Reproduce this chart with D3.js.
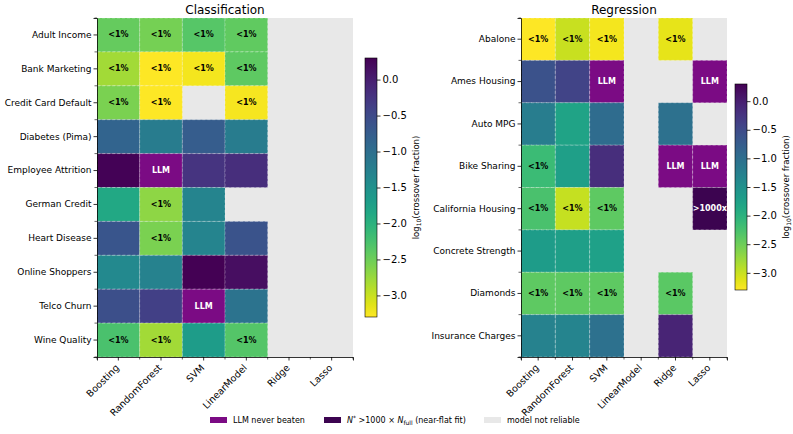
<!DOCTYPE html>
<html>
<head>
<meta charset="utf-8">
<script src="https://cdn.jsdelivr.net/npm/d3@7"></script>
<style>
  body { margin: 0; background: #fff; }
  text { font-family: "DejaVu Sans", sans-serif; fill: #000; }
</style>
</head>
<body>
<div id="chart"></div>
<script>
// models on the x axis (same for both panels)
var models = ["Boosting", "RandomForest", "SVM", "LinearModel", "Ridge", "Lasso"];

var clsDatasets = ["Adult Income", "Bank Marketing", "Credit Card Default", "Diabetes (Pima)",
  "Employee Attrition", "German Credit", "Heart Disease", "Online Shoppers", "Telco Churn", "Wine Quality"];

// log10(crossover fraction); null = model not reliable, "LLM" = never beaten, "FLAT" = >1000x
var clsValues = [
  [-2.45, -2.55, -2.35, -2.42, null, null],
  [-2.80, -3.30, -3.23, -2.40, null, null],
  [-2.58, -3.30, null, -3.25, null, null],
  [-0.85, -1.20, -0.75, -1.20, null, null],
  [0.28, "LLM", -0.24, -0.17, null, null],
  [-1.86, -2.69, -1.32, null, null, null],
  [-0.65, -2.58, -1.32, -0.62, null, null],
  [-1.39, -1.28, 0.30, 0.16, null, null],
  [-0.56, -0.38, "LLM", -1.07, null, null],
  [-2.26, -2.80, -1.68, -2.33, null, null]
];

var regDatasets = ["Abalone", "Ames Housing", "Auto MPG", "Bike Sharing", "California Housing",
  "Concrete Strength", "Diamonds", "Insurance Charges"];

var regValues = [
  [-3.30, -3.00, -3.23, null, -3.16, null],
  [-0.60, -0.42, "LLM", null, null, "LLM"],
  [-1.21, -1.79, -0.96, null, -1.03, null],
  [-2.15, -1.72, -0.17, null, "LLM", "LLM"],
  [-2.26, -2.98, -2.40, null, null, "FLAT"],
  [-1.68, -1.72, -1.75, null, null, null],
  [-2.40, -2.40, -2.40, null, -2.38, null],
  [-1.28, -1.32, -1.03, null, -0.06, null]
];

var cbTicks = [0.0, -0.5, -1.0, -1.5, -2.0, -2.5, -3.0];
var vmin = -3.3, vmax = 0.3;

var legendItems = [
  { key: "LLM", label: "LLM never beaten" },
  { key: "FLAT", label: "N*>1000\u00d7N_full (near-flat fit)" },
  { key: "NA", label: "model not reliable" }
];

var specialColor = { LLM: "#7b0b84", FLAT: "#3c0450", NA: "#e8e8e8" };

var W = 793, H = 434;
var svg = d3.select("#chart").append("svg")
  .attr("width", W)
  .attr("height", H);

var color = d3.scaleSequential(function(t) { return d3.interpolateViridis(1 - t); })
  .domain([vmin, vmax]);

function fmt(v) {
  return (v < 0 ? "\u2212" : "") + Math.abs(v).toFixed(1);
}

function panel(opts) {
  var g = svg.append("g");
  var x = d3.scaleBand().domain(models).range([opts.x0, opts.x1]);
  var y = d3.scaleBand().domain(opts.rows).range([opts.y0, opts.y1]);

  // background (not reliable)
  g.append("rect")
    .attr("x", opts.x0).attr("y", opts.y0)
    .attr("width", opts.x1 - opts.x0).attr("height", opts.y1 - opts.y0)
    .attr("fill", specialColor.NA);

  var cells = [];
  opts.values.forEach(function(row, i) {
    row.forEach(function(v, j) {
      if (v !== null) cells.push({ row: opts.rows[i], col: models[j], v: v });
    });
  });

  g.selectAll("rect.cell")
    .data(cells)
    .enter().append("rect")
      .attr("class", "cell")
      .attr("x", d => x(d.col))
      .attr("y", d => y(d.row))
      .attr("width", x.bandwidth())
      .attr("height", y.bandwidth())
      .attr("fill", d => typeof d.v === "string" ? specialColor[d.v] : color(d.v))
      .attr("stroke", "rgba(255,255,255,0.45)")
      .attr("stroke-width", 0.7)
      .attr("stroke-dasharray", "3,2");

  g.selectAll("text.ann")
    .data(cells.filter(d => typeof d.v === "string" || d.v < -2))
    .enter().append("text")
      .attr("class", "ann")
      .attr("x", d => x(d.col) + x.bandwidth() / 2)
      .attr("y", d => y(d.row) + y.bandwidth() / 2)
      .attr("text-anchor", "middle")
      .attr("dominant-baseline", "central")
      .style("font-size", "8px")
      .style("font-weight", "bold")
      .style("fill", d => typeof d.v === "string" ? "#fff" : "#000")
      .text(d => d.v === "LLM" ? "LLM" : d.v === "FLAT" ? ">1000x" : "<1%");

  // axes
  var yAxis = g.append("g")
    .attr("transform", "translate(" + opts.x0 + ",0)")
    .call(d3.axisLeft(y).tickSize(3.5).tickPadding(2));
  var xAxis = g.append("g")
    .attr("transform", "translate(0," + opts.y1 + ")")
    .call(d3.axisBottom(x).tickSize(3.5).tickPadding(2));
  [xAxis, yAxis].forEach(function(a) {
    a.select(".domain").attr("stroke", "#000").attr("stroke-width", 0.8);
    a.selectAll(".tick line").attr("stroke", "#000").attr("stroke-width", 0.8);
    a.selectAll("text").style("font-size", "9px").style("font-family", "DejaVu Sans");
  });
  xAxis.selectAll(".tick text")
    .attr("x", 0).attr("y", 0)
    .attr("text-anchor", "end")
    .attr("dy", "0.35em")
    .style("font-size", "9.5px")
    .attr("transform", "translate(-1,9) rotate(-45)");

  // minor ticks at cell edges
  var xe = models.map(m => x(m)).concat([opts.x1]);
  g.selectAll("line.xminor").data(xe).enter().append("line")
    .attr("x1", d => d).attr("x2", d => d)
    .attr("y1", opts.y1).attr("y2", opts.y1 + 2.5)
    .attr("stroke", "#000").attr("stroke-width", 0.6);
  var ye = opts.rows.map(r => y(r)).concat([opts.y1]);
  g.selectAll("line.yminor").data(ye).enter().append("line")
    .attr("x1", opts.x0 - 2.5).attr("x2", opts.x0)
    .attr("y1", d => d).attr("y2", d => d)
    .attr("stroke", "#000").attr("stroke-width", 0.6);

  // title
  g.append("text")
    .attr("x", (opts.x0 + opts.x1) / 2)
    .attr("y", 14)
    .attr("text-anchor", "middle")
    .style("font-size", "12px")
    .text(opts.title);

  // colorbar
  var cb = opts.cb;
  var cy = d3.scaleLinear().domain([vmin, vmax]).range([cb.y1, cb.y0]);
  var gradId = "grad" + opts.title;
  var grad = svg.append("defs").append("linearGradient")
    .attr("id", gradId)
    .attr("x1", "0").attr("y1", "1").attr("x2", "0").attr("y2", "0");
  d3.range(0, 1.0001, 0.05).forEach(function(t) {
    grad.append("stop")
      .attr("offset", t)
      .attr("stop-color", color(vmin + t * (vmax - vmin)));
  });
  g.append("rect")
    .attr("x", cb.x).attr("y", cb.y0)
    .attr("width", cb.w).attr("height", cb.y1 - cb.y0)
    .attr("fill", "url(#" + gradId + ")")
    .attr("stroke", "#000").attr("stroke-width", 0.6);
  var cAxis = g.append("g")
    .attr("transform", "translate(" + (cb.x + cb.w) + ",0)")
    .call(d3.axisRight(cy).tickValues(cbTicks).tickFormat(fmt).tickSize(3.5).tickPadding(2));
  cAxis.select(".domain").remove();
  cAxis.selectAll(".tick line").attr("stroke", "#000").attr("stroke-width", 0.8);
  cAxis.selectAll("text").style("font-size", "10px").style("font-family", "DejaVu Sans");

  var lab = g.append("text")
    .attr("transform", "translate(" + cb.labelX + "," + ((cb.y0 + cb.y1) / 2) + ") rotate(-90)")
    .attr("text-anchor", "middle")
    .style("font-size", "8.5px");
  lab.append("tspan").text("log");
  lab.append("tspan").attr("dy", 2).style("font-size", "6px").text("10");
  lab.append("tspan").attr("dy", -2).text("(crossover fraction)");
}

panel({
  title: "Classification",
  rows: clsDatasets, values: clsValues,
  x0: 97, x1: 353, y0: 18, y1: 357,
  cb: { x: 365, w: 12, y0: 58, y1: 317, labelX: 419 }
});

panel({
  title: "Regression",
  rows: regDatasets, values: regValues,
  x0: 521, x1: 727, y0: 18, y1: 357,
  cb: { x: 735, w: 12, y0: 84, y1: 290, labelX: 789 }
});

// legend
var legX = [210, 324, 484];
var leg = svg.append("g");
legendItems.forEach(function(it, i) {
  leg.append("rect")
    .attr("x", legX[i]).attr("y", 417)
    .attr("width", 17).attr("height", 6)
    .attr("fill", specialColor[it.key]);
  var t = leg.append("text")
    .attr("x", legX[i] + 23).attr("y", 423)
    .style("font-size", "8px");
  if (it.key === "FLAT") {
    t.append("tspan").style("font-style", "italic").text("N");
    t.append("tspan").attr("dy", -3).style("font-size", "6px").text("*");
    t.append("tspan").attr("dy", 3).text(" >1000 \u00d7 ");
    t.append("tspan").style("font-style", "italic").text("N");
    t.append("tspan").attr("dy", 2).style("font-size", "6px").text("full");
    t.append("tspan").attr("dy", -2).text(" (near-flat fit)");
  } else {
    t.text(it.label);
  }
});
</script>
</body>
</html>
